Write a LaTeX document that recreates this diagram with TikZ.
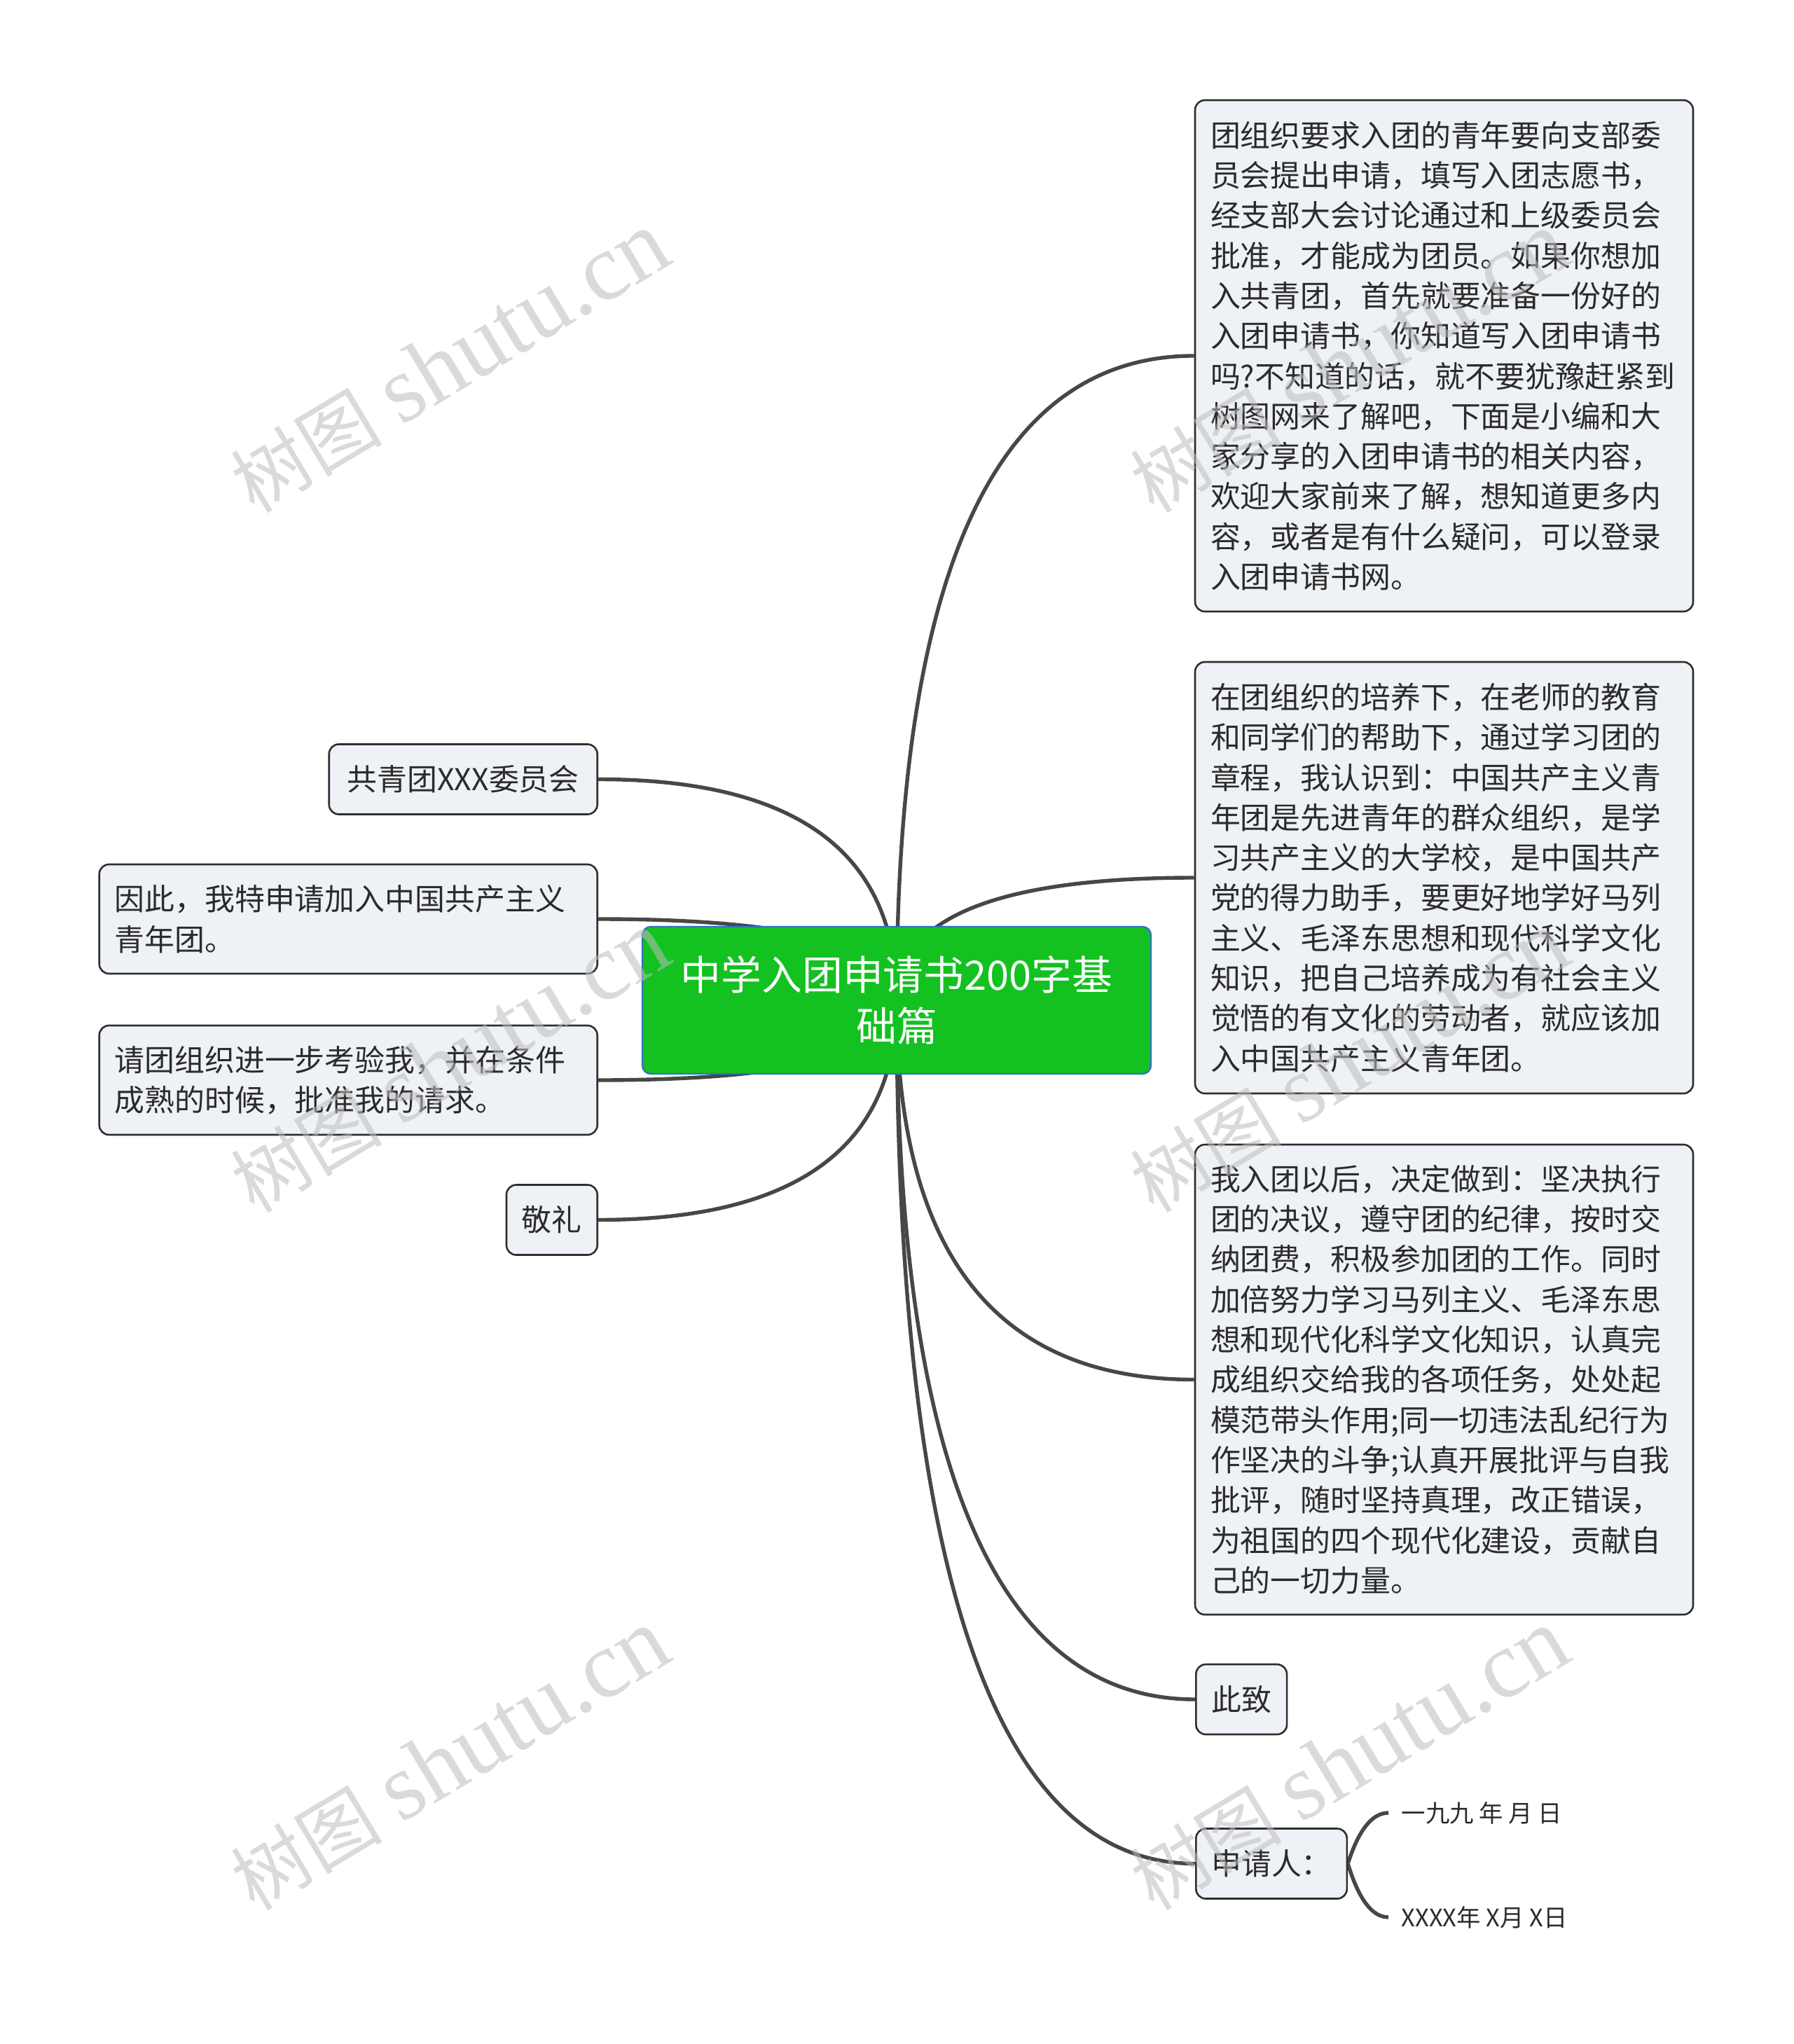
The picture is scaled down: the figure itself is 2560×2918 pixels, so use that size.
\documentclass[tikz,border=0pt]{standalone}
\usepackage{fontspec}
\setmainfont{Noto Sans CJK SC}
\newfontfamily\wmlatin{Liberation Serif}
\usetikzlibrary{calc,backgrounds}
\definecolor{rootgreen}{HTML}{13C120}
\definecolor{rootblue}{HTML}{2F74C0}
\definecolor{leaffill}{HTML}{EEF1F5}
\definecolor{leafline}{HTML}{2E2E2E}
\definecolor{linkcol}{HTML}{454944}
\definecolor{txtcol}{HTML}{2B2B2B}
\definecolor{wmcol}{HTML}{BDBDBD}
% quadratic-like link: control point at (start |- end), optionally moved towards end
\newcommand\mmlink[3][0]{%
  \coordinate (mmK) at ($(#2 |- #3)!#1!(#3)$);
  \draw[conn] (#2) .. controls ($(#2)!0.6667!(mmK)$) and ($(#3)!0.6667!(mmK)$) .. (#3);}
\begin{document}
\begin{tikzpicture}[x=0.25pt,y=-0.25pt,
  rootbox/.style={draw=rootblue,fill=rootgreen,line width=0.6pt,rounded corners=3pt,
    text=white,align=center,minimum width=181.5pt,minimum height=52.5pt,inner sep=0pt,
    font=\fontsize{14.45pt}{18.15pt}\selectfont},
  leafbox/.style={draw=leafline,fill=leaffill,line width=0.65pt,rounded corners=3.5pt,
    text=txtcol,inner xsep=5.5pt,inner ysep=0pt,font=\fontsize{10.72pt}{14.33pt}\selectfont},
  bigbox/.style={leafbox,text width=166.75pt,align=left},
  smallbox/.style={leafbox,minimum height=25pt},
  datetext/.style={text=txtcol,inner xsep=4.5pt,inner ysep=0pt,font=\fontsize{8.6pt}{10pt}\selectfont},
  conn/.style={draw=linkcol,line width=1.35pt},
  wm/.style={text=wmcol,opacity=0.55,rotate=31,inner sep=0pt}
]
\useasboundingbox (0,0) rectangle (2560,2918);

% root
\node[rootbox] (root) at (1280,1428) {中学入团申请书200字基\\础篇};

% right side
\node[bigbox,minimum height=182.5pt] (b1) at (2061.5,508) {团组织要求入团的青年要向支部委\\员会提出申请，填写入团志愿书，\\经支部大会讨论通过和上级委员会\\批准，才能成为团员。如果你想加\\入共青团，首先就要准备一份好的\\入团申请书，你知道写入团申请书\\吗?不知道的话，就不要犹豫赶紧到\\树图网来了解吧，下面是小编和大\\家分享的入团申请书的相关内容，\\欢迎大家前来了解，想知道更多内\\容，或者是有什么疑问，可以登录\\入团申请书网。};
\node[bigbox,minimum height=154pt] (b2) at (2061.5,1253) {在团组织的培养下，在老师的教育\\和同学们的帮助下，通过学习团的\\章程，我认识到：中国共产主义青\\年团是先进青年的群众组织，是学\\习共产主义的大学校，是中国共产\\党的得力助手，要更好地学好马列\\主义、毛泽东思想和现代科学文化\\知识，把自己培养成为有社会主义\\觉悟的有文化的劳动者，就应该加\\入中国共产主义青年团。};
\node[bigbox,minimum height=167.75pt] (b3) at (2061.5,1969.5) {我入团以后，决定做到：坚决执行\\团的决议，遵守团的纪律，按时交\\纳团费，积极参加团的工作。同时\\加倍努力学习马列主义、毛泽东思\\想和现代化科学文化知识，认真完\\成组织交给我的各项任务，处处起\\模范带头作用;同一切违法乱纪行为\\作坚决的斗争;认真开展批评与自我\\批评，随时坚持真理，改正错误，\\为祖国的四个现代化建设，贡献自\\己的一切力量。};
\node[smallbox,anchor=west] (cz) at (1706,2426) {此致};
\node[smallbox,anchor=west] (sq) at (1706,2660.5) {申请人：};
\node[datetext,anchor=west] (d1) at (1982,2588) {一九九 年 月 日};
\node[datetext,anchor=west] (d2) at (1982,2737) {XXXX年 X月 X日};

% left side
\node[smallbox,anchor=east,minimum width=95.75pt] (gq) at (854,1112.5) {共青团XXX委员会};
\node[bigbox,minimum height=39pt,anchor=east] (yc) at (854,1312) {因此，我特申请加入中国共产主义\\青年团。};
\node[bigbox,minimum height=39pt,anchor=east] (qt) at (854,1542) {请团组织进一步考验我，并在条件\\成熟的时候，批准我的请求。};
\node[smallbox,anchor=east] (jl) at (854,1741.5) {敬礼};

\begin{pgfonlayer}{background}
  \fill[white] (0,0) rectangle (2560,2918);
  \mmlink{root.center}{b1.west}
  \mmlink{root.center}{b2.west}
  \mmlink{root.center}{b3.west}
  \mmlink{root.center}{cz.west}
  \mmlink{root.center}{sq.west}
  \mmlink{root.center}{gq.east}
  \mmlink{root.center}{yc.east}
  \mmlink{root.center}{qt.east}
  \mmlink{root.center}{jl.east}
  \mmlink[0.4]{sq.east}{d1.west}
  \mmlink[0.4]{sq.east}{d2.west}
\end{pgfonlayer}

% watermarks
\foreach \wx/\wy [count=\i] in {642/517,1926/517,642/1516,1926/1516,642/2512,1926/2512}
  \node[wm] (wm\i) at (\wx,\wy) {{\fontsize{27pt}{30pt}\selectfont 树图}\hspace{7pt}{\wmlatin\fontsize{34pt}{36pt}\selectfont shutu.cn}};
\end{tikzpicture}
\end{document}
